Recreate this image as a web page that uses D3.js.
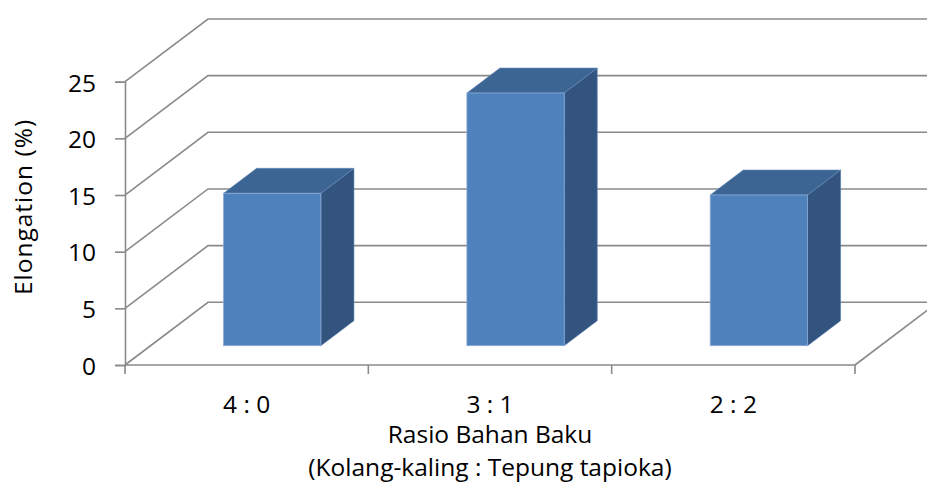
<!DOCTYPE html>
<html>
<head>
<meta charset="utf-8">
<script src="https://cdn.jsdelivr.net/npm/d3@7"></script>
<style>
  html, body { margin: 0; padding: 0; background: #ffffff; }
  svg { display: block; font-family: "Open Sans", "Noto Sans", sans-serif; }
</style>
</head>
<body>
<svg id="chart" width="927" height="483"></svg>
<script>
// Elongation by raw-material ratio (3D column chart)
const categories = ["4 : 0", "3 : 1", "2 : 2"];
const elongation = [13.45, 22.3, 13.3];
const yTickValues = [0, 5, 10, 15, 20, 25];
const yTitle = "Elongation (%)";
const xTitleLines = ["Rasio Bahan Baku", "(Kolang-kaling : Tepung tapioka)"];

const W = 927, H = 483;
const FS = 24.5;
const svg = d3.select("#chart");

// front plane of the plot
const plotLeft = 125, plotRight = 855, plotBottom = 365, plotTop = 81.7;
// depth vector from front plane to back wall
const DX = 83, DY = -62.7;
const gridColor = "#8a8a8a";

const y = d3.scaleLinear().domain([0, 25]).range([plotBottom, plotTop]);
const x = d3.scaleBand().domain(categories).range([plotLeft, plotRight])
  .paddingInner(0.6).paddingOuter(0.3);
const step = x.step();
// depth fraction -> 2D offset
const zx = d3.scaleLinear().domain([0, 1]).range([0, DX]);
const zy = d3.scaleLinear().domain([0, 1]).range([0, DY]);
const zFront = 0.308, zBack = 0.706;

const grid = svg.append("g")
  .attr("fill", "none").attr("stroke", gridColor).attr("stroke-width", 1.6);

// side wall diagonals + back wall gridlines
yTickValues.forEach(t => {
  const yy = y(t);
  grid.append("path")
    .attr("d", `M${plotLeft},${yy}L${plotLeft + DX},${yy + DY}L${W + 20},${yy + DY}`);
});

// floor: front edge and right edge
grid.append("path").attr("d", `M${plotLeft},${plotBottom}L${plotRight},${plotBottom}`);
grid.append("path").attr("d", `M${plotRight},${plotBottom}L${plotRight + DX},${plotBottom + DY}`);

// category tick marks at band boundaries
const boundaries = categories.map((c, i) => plotLeft + i * step).concat([plotRight]);
boundaries.forEach(bx => {
  grid.append("path").attr("d", `M${bx},${plotBottom}L${bx},${plotBottom + 9}`);
});

// y axis
const yAxis = d3.axisLeft(y).tickValues(yTickValues).tickSize(10).tickPadding(19);
const yG = svg.append("g").attr("transform", `translate(${plotLeft},0)`).call(yAxis);
yG.select(".domain").attr("stroke", gridColor).attr("stroke-width", 1.6);
yG.selectAll(".tick line").attr("stroke", gridColor).attr("stroke-width", 1.6);
yG.selectAll(".tick text")
  .attr("font-size", FS).attr("fill", "#000").attr("dy", "0.38em")
  .attr("font-family", "Open Sans");

// bars
const cFront = "#4f81bd", cTop = "#3c6594", cSide = "#32547f";
const bars = svg.append("g");
categories.forEach((c, i) => {
  const v = elongation[i];
  const x0 = x(c), w = x.bandwidth();
  const ox0 = zx(zFront), oy0 = zy(zFront), ox1 = zx(zBack), oy1 = zy(zBack);
  const yv = y(v), y0 = y(0);
  const g = bars.append("g");
  // side face
  g.append("path")
    .attr("d", `M${x0 + w + ox0},${yv + oy0}L${x0 + w + ox1},${yv + oy1}L${x0 + w + ox1},${y0 + oy1}L${x0 + w + ox0},${y0 + oy0}Z`)
    .attr("fill", cSide).attr("stroke", "#5a7fae").attr("stroke-width", 0.6);
  // top face
  g.append("path")
    .attr("d", `M${x0 + ox0},${yv + oy0}L${x0 + w + ox0},${yv + oy0}L${x0 + w + ox1},${yv + oy1}L${x0 + ox1},${yv + oy1}Z`)
    .attr("fill", cTop).attr("stroke", "#6488b8").attr("stroke-width", 0.6);
  // front face
  g.append("rect")
    .attr("x", x0 + ox0).attr("y", yv + oy0)
    .attr("width", w).attr("height", y0 - yv)
    .attr("fill", cFront).attr("stroke", "#8aa9d4").attr("stroke-width", 0.8);
});

// category labels
const xAxis = d3.axisBottom(x).tickSize(0).tickPadding(0);
const xG = svg.append("g").attr("transform", `translate(0,${plotBottom})`).call(xAxis);
xG.select(".domain").remove();
xG.selectAll(".tick text")
  .attr("font-size", FS).attr("fill", "#000").attr("dy", null)
  .attr("y", 48).attr("font-family", "Open Sans");

// axis titles
svg.append("text")
  .attr("transform", `translate(32,207) rotate(-90)`)
  .attr("text-anchor", "middle").attr("font-size", FS).attr("fill", "#000")
  .attr("letter-spacing", 1)
  .text(yTitle);

xTitleLines.forEach((line, i) => {
  svg.append("text")
    .attr("x", (plotLeft + plotRight) / 2).attr("y", 443 + i * 33)
    .attr("text-anchor", "middle").attr("font-size", FS).attr("fill", "#000")
    .text(line);
});
</script>
</body>
</html>
